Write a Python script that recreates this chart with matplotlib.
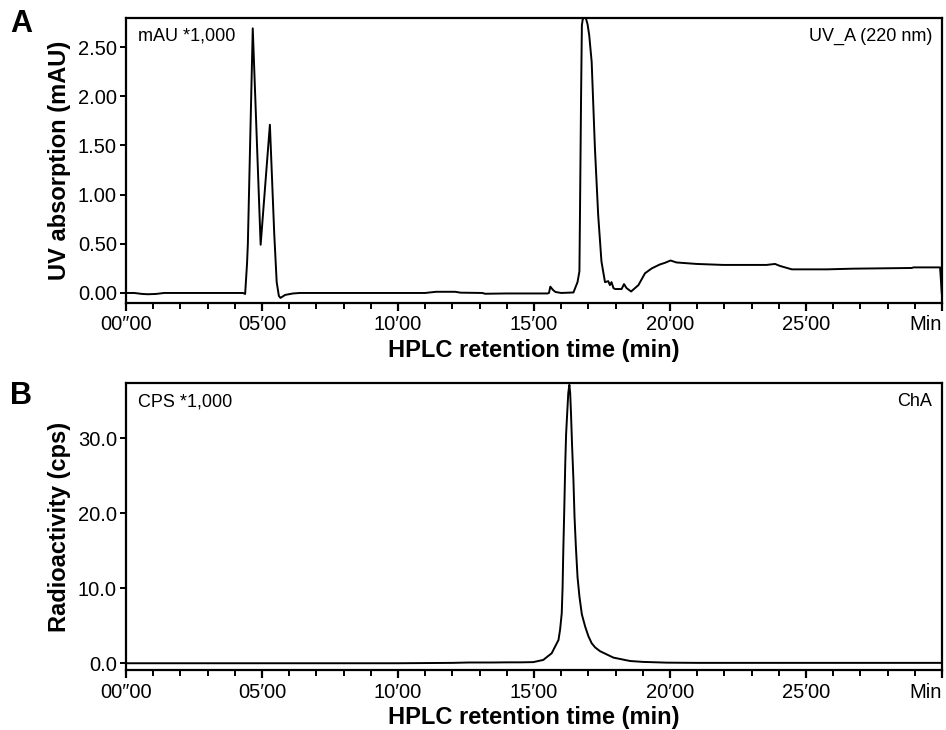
import matplotlib
matplotlib.use("Agg")
import matplotlib.pyplot as plt
from matplotlib.ticker import MultipleLocator

plt.rcParams['font.family'] = ['Liberation Sans', 'DejaVu Sans']

# ---- Panel A: UV trace (mAU * 1000) ----
uv_time = [0.0, 0.3, 0.6, 0.8, 1.1, 1.4, 2.0, 3.0, 4.0, 4.3, 4.38, 4.45, 4.48,
           4.66, 4.95, 5.29, 5.45, 5.54, 5.62, 5.68, 5.85, 6.14, 6.4, 8.0, 11.0,
           11.4, 12.1, 12.3, 13.1, 13.2, 14.0, 15.0, 15.5, 15.55, 15.6, 15.7,
           15.79, 16.0, 16.45, 16.6, 16.67, 16.69, 16.73, 16.76, 16.79, 16.84, 16.91,
           16.97, 17.03, 17.12, 17.24, 17.36, 17.48, 17.61, 17.73, 17.79, 17.85, 17.92,
           17.98, 18.22, 18.31, 18.4, 18.57, 18.84, 19.08, 19.33, 19.63, 19.8,
           20.02, 20.24, 20.98, 21.96, 23.55, 23.86, 24.04, 24.48, 25.76, 26.74,
           28.89, 28.95, 29.93, 29.99]
uv_value = [0.0, 0.0, -0.01, -0.013, -0.01, 0.0, 0.0, 0.0, 0.0, 0.0, -0.01, 0.3, 0.5,
            2.69, 0.49, 1.71, 0.6, 0.11, -0.03, -0.05, -0.02, -0.005, 0.0, 0.0, 0.0,
            0.012, 0.012, 0.003, 0.0, -0.008, -0.005, -0.005, -0.005, 0.0, 0.064, 0.03,
            0.01, 0.0, 0.005, 0.11, 0.22, 0.79, 1.98, 2.72, 2.78, 2.80, 2.79,
            2.73, 2.62, 2.35, 1.47, 0.79, 0.32, 0.11, 0.12, 0.08, 0.11, 0.05,
            0.04, 0.04, 0.09, 0.05, 0.015, 0.08, 0.2, 0.25, 0.29, 0.305,
            0.33, 0.31, 0.295, 0.285, 0.285, 0.295, 0.275, 0.24, 0.24, 0.247,
            0.254, 0.26, 0.26, 0.0]

# ---- Panel B: radioactivity trace (CPS * 1000) ----
rad_time = [0.0, 2.0, 5.0, 8.0, 10.0, 12.0, 12.6, 13.5, 14.0, 14.5, 14.97, 15.34,
            15.65, 15.9, 15.96, 16.02, 16.05, 16.08, 16.11, 16.15, 16.18, 16.22,
            16.26, 16.3, 16.33, 16.36, 16.40, 16.45, 16.49, 16.54, 16.6, 16.67,
            16.76, 16.88, 17.0, 17.12, 17.25, 17.43, 17.92, 18.53, 19.0, 19.88,
            21.0, 23.0, 25.0, 27.0, 30.0]
rad_value = [0.0, 0.0, 0.0, 0.0, 0.0, 0.05, 0.1, 0.1, 0.12, 0.12, 0.15, 0.44,
             1.33, 3.1, 4.5, 6.67, 10.0, 15.5, 20.0, 26.7, 30.5, 33.3,
             36.0, 37.1, 36.0, 33.3, 29.0, 24.4, 19.5, 15.5, 11.5, 8.9,
             6.5, 4.9, 3.6, 2.67, 2.1, 1.6, 0.75, 0.3, 0.18, 0.08,
             0.05, 0.05, 0.05, 0.05, 0.05]

xtick_pos = [0, 5, 10, 15, 20, 25, 30]
xtick_labels = ["00\u203300", "05\u203200", "10\u203200", "15\u203200",
                "20\u203200", "25\u203200", "Min"]

uv_ticks = [0.0, 0.5, 1.0, 1.5, 2.0, 2.5]
uv_ticklabels = ["0.00", "0.50", "1.00", "1.50", "2.00", "2.50"]
rad_ticks = [0, 10, 20, 30]
rad_ticklabels = ["0.0", "10.0", "20.0", "30.0"]

fig = plt.figure(figsize=(9.46, 7.30), dpi=100)
W, H = 946.0, 730.0
axA = fig.add_axes([126 / W, (H - 303) / H, 816 / W, 285 / H])
axB = fig.add_axes([126 / W, (H - 670) / H, 816 / W, 286.7 / H])

TICK_FS = 14.5
LABEL_FS = 17
ANN_FS = 13


def style(ax, ylim, yticks, ylabels, ylabel, tl, tr):
    ax.set_xlim(0, 30)
    ax.set_ylim(*ylim)
    for s in ax.spines.values():
        s.set_linewidth(1.6)
    ax.set_xticks(xtick_pos)
    ax.set_xticklabels(xtick_labels, fontsize=TICK_FS)
    lbls = ax.get_xticklabels()
    lbls[-1].set_horizontalalignment('right')
    ax.xaxis.set_minor_locator(MultipleLocator(1))
    ax.set_yticks(yticks)
    ax.set_yticklabels(ylabels, fontsize=TICK_FS)
    ax.tick_params(axis='x', which='major', direction='out', length=6, width=1.6, pad=3)
    ax.tick_params(axis='x', which='minor', direction='out', length=4, width=1.4)
    ax.tick_params(axis='y', which='major', direction='out', length=4.5, width=1.4, pad=2)
    ax.set_xlabel("HPLC retention time (min)", fontsize=LABEL_FS, fontweight='bold', labelpad=3)
    ax.set_ylabel(ylabel, fontsize=LABEL_FS, fontweight='bold', labelpad=5)
    ax.text(0.015, 0.965, tl, transform=ax.transAxes, ha='left', va='top', fontsize=ANN_FS)
    ax.text(0.988, 0.965, tr, transform=ax.transAxes, ha='right', va='top', fontsize=ANN_FS)


axA.plot(uv_time, uv_value, color='black', lw=1.4, solid_joinstyle='round')
style(axA, (-0.102, 2.795), uv_ticks, uv_ticklabels, "UV absorption (mAU)",
      "mAU *1,000", "UV_A (220 nm)")

axB.plot(rad_time, rad_value, color='black', lw=1.4, solid_joinstyle='round')
style(axB, (-0.9, 37.3), rad_ticks, rad_ticklabels, "Radioactivity (cps)",
      "CPS *1,000", "ChA")

fig.text(10 / W, 1 - 24 / H, "A", fontsize=22, fontweight='bold', ha='left', va='center')
fig.text(10 / W, 1 - 396 / H, "B", fontsize=22, fontweight='bold', ha='left', va='center')

fig.savefig("out.png", dpi=100)
